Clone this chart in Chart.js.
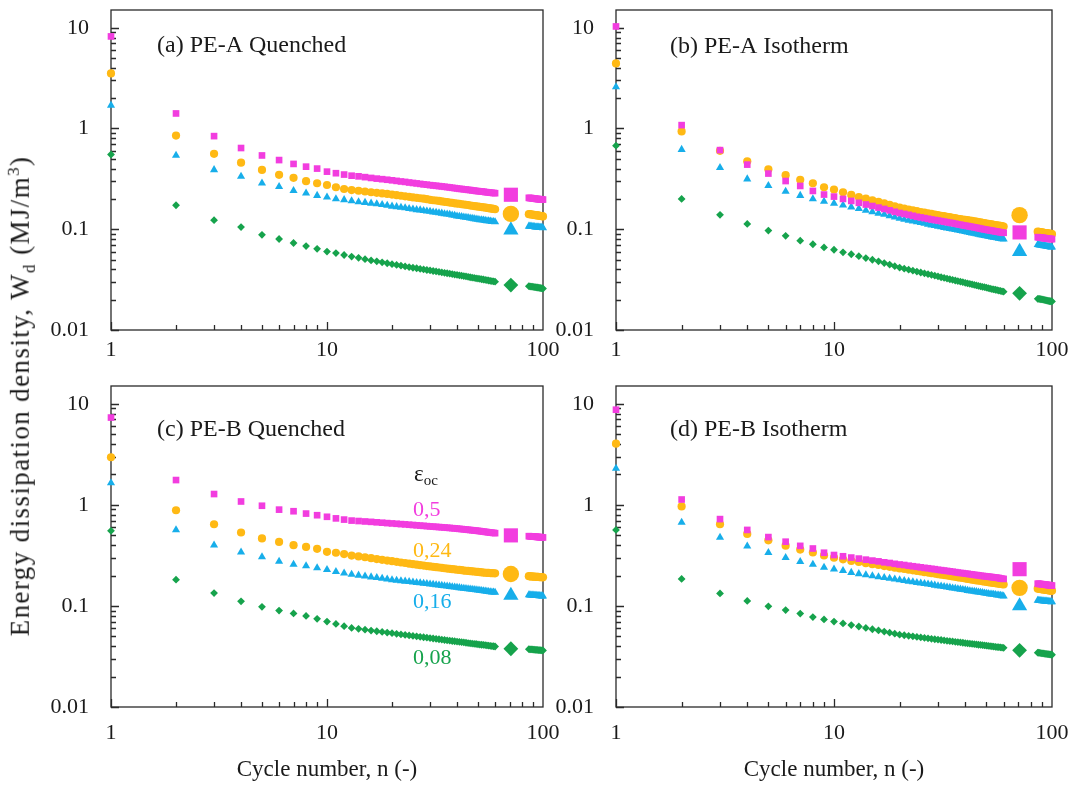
<!DOCTYPE html>
<html>
<head>
<meta charset="utf-8">
<script src="https://cdn.jsdelivr.net/npm/chart.js@4.4.0/dist/chart.umd.min.js"></script>
<style>
  body { margin: 0; background: #fff; }
  #wrap { position: relative; width: 1074px; height: 785px; overflow: hidden; font-family: 'Liberation Serif', 'Times New Roman', serif; }
  #wrap canvas { position: absolute; }
  #ytitle { position: absolute; left: 22px; top: 396px; transform: translate(-50%, -50%) rotate(-90deg); white-space: nowrap; font-size: 27px; letter-spacing: 1.4px; color: #1a1a1a; }
  #ytitle sub, #ytitle sup { font-size: 17px; }
</style>
</head>
<body>
<div id="wrap">
  <canvas id="pa"></canvas>
  <canvas id="pb"></canvas>
  <canvas id="pc"></canvas>
  <canvas id="pd"></canvas>
  <div id="ytitle">Energy dissipation density, W<sub>d</sub> (MJ/m<sup>3</sup>)</div>
</div>
<script>
// cycle numbers that carry a marker (the band is blanked around the big markers)
const cycles = [1,2,3,4,5,6,7,8,9,10,11,12,13,14,15,16,17,18,19,20,21,22,23,24,25,26,27,28,29,30,
  31,32,33,34,35,36,37,38,39,40,41,42,43,44,45,46,47,48,49,50,51,52,53,54,55,56,57,58,59,60,
  86,87,88,89,90,91,92,93,94,95,96,97,98,99,100];
const bigCycle = 71;

// (a) PE-A Quenched
const aPink = [8.2,1.41,0.84,0.64,0.54,0.486,0.445,0.418,0.40,0.373,0.36,0.349,0.34,
  0.335,0.329,0.323,0.318,0.314,0.310,0.306,0.302,0.298,0.295,0.291,0.288,0.285,0.282,0.279,0.277,0.274,
  0.272,0.270,0.268,0.266,0.264,0.262,0.260,0.258,0.256,0.254,0.252,0.251,0.249,0.248,0.246,0.245,0.243,0.242,0.240,0.239,0.238,0.237,0.236,0.234,0.233,0.232,0.231,0.230,0.229,0.228,
  0.205,0.204,0.204,0.203,0.202,0.202,0.201,0.200,0.200,0.199,0.199,0.198,0.198,0.197,0.197];
const aOrange = [3.52,0.85,0.561,0.458,0.388,0.347,0.324,0.300,0.286,0.275,0.261,0.251,0.245,
  0.241,0.237,0.233,0.230,0.227,0.224,0.221,0.218,0.215,0.212,0.210,0.207,0.205,0.203,0.201,0.199,0.196,
  0.194,0.193,0.191,0.189,0.187,0.186,0.184,0.183,0.181,0.180,0.179,0.177,0.176,0.175,0.174,0.172,0.171,0.170,0.169,0.168,0.167,0.166,0.165,0.164,0.163,0.162,0.161,0.160,0.159,0.158,
  0.141,0.141,0.140,0.140,0.139,0.139,0.138,0.138,0.137,0.137,0.136,0.136,0.135,0.135,0.134];
const aBlue = [1.70,0.54,0.389,0.334,0.286,0.265,0.242,0.228,0.216,0.208,0.200,0.196,0.191,
  0.187,0.184,0.181,0.178,0.175,0.172,0.169,0.167,0.165,0.163,0.160,0.158,0.156,0.155,0.153,0.151,0.150,
  0.148,0.147,0.145,0.144,0.142,0.141,0.140,0.138,0.137,0.135,0.134,0.133,0.132,0.131,0.130,0.129,0.128,0.127,0.126,0.125,0.124,0.124,0.123,0.122,0.121,0.121,0.120,0.119,0.119,0.118,
  0.107,0.107,0.107,0.106,0.106,0.106,0.105,0.105,0.105,0.105,0.104,0.104,0.104,0.104,0.103];
const aGreen = [0.552,0.173,0.123,0.105,0.088,0.080,0.073,0.068,0.064,0.060,0.058,0.0555,0.0535,
  0.052,0.0505,0.049,0.048,0.047,0.046,0.045,0.0442,0.0435,0.0428,0.0421,0.0415,0.041,0.0404,0.0399,0.0394,0.039,
  0.0385,0.0381,0.0377,0.0373,0.0369,0.0366,0.0362,0.0359,0.0355,0.0352,0.0349,0.0346,0.0343,0.034,0.0337,0.0334,0.0331,0.0329,0.0326,0.0324,0.0321,0.0319,0.0317,0.0314,0.0312,0.031,0.0308,0.0306,0.0304,0.0302,
  0.0272,0.0271,0.027,0.0269,0.0268,0.0267,0.0266,0.0265,0.0264,0.0263,0.0262,0.0261,0.026,0.0259,0.0258];
const aBig = [0.22, 0.142, 0.098, 0.0279];

// (b) PE-A Isotherm
const bPink = [10.3,1.08,0.61,0.438,0.357,0.301,0.269,0.240,0.221,0.211,0.200,0.191,0.183,
  0.176,0.170,0.164,0.159,0.154,0.149,0.145,0.142,0.139,0.136,0.133,0.131,0.129,0.127,0.125,0.1235,0.122,
  0.1205,0.119,0.1175,0.116,0.115,0.1135,0.112,0.111,0.1095,0.1085,0.1075,0.1065,0.1055,0.1045,0.1035,0.1025,0.1015,0.1005,0.0997,0.0989,0.0981,0.0974,0.0967,0.096,0.0953,0.0946,0.094,0.0934,0.0928,0.0922,
  0.0835,0.0832,0.0829,0.0826,0.0823,0.082,0.0817,0.0814,0.0811,0.0808,0.0806,0.0804,0.0802,0.08,0.0798];
const bOrange = [4.42,0.935,0.60,0.472,0.394,0.344,0.310,0.286,0.261,0.248,0.233,0.219,0.209,
  0.201,0.194,0.187,0.181,0.175,0.169,0.164,0.160,0.157,0.154,0.151,0.148,0.146,0.144,0.142,0.140,0.138,
  0.136,0.135,0.133,0.132,0.130,0.129,0.127,0.126,0.125,0.124,0.123,0.122,0.121,0.120,0.119,0.118,0.117,0.116,0.115,0.114,0.1132,0.1124,0.1116,0.1108,0.11,0.1093,0.1086,0.1079,0.1072,0.1065,
  0.0945,0.0941,0.0937,0.0933,0.0929,0.0925,0.0921,0.0917,0.0914,0.0911,0.0908,0.0905,0.0902,0.0899,0.0896];
const bBlue = [2.58,0.618,0.409,0.315,0.271,0.237,0.216,0.200,0.189,0.181,0.173,0.166,0.160,
  0.154,0.149,0.144,0.140,0.136,0.132,0.128,0.125,0.1225,0.12,0.118,0.116,0.114,0.112,0.110,0.1085,0.107,
  0.1055,0.104,0.1027,0.1014,0.1002,0.099,0.0978,0.0967,0.0956,0.0945,0.0935,0.0925,0.0916,0.0907,0.0898,0.0889,0.0881,0.0873,0.0865,0.0858,0.0851,0.0844,0.0837,0.0831,0.0825,0.0819,0.0813,0.0807,0.0802,0.0797,
  0.0703,0.07,0.0697,0.0694,0.0691,0.0688,0.0685,0.0682,0.0679,0.0676,0.0673,0.067,0.0668,0.0666,0.0664];
const bGreen = [0.676,0.20,0.139,0.113,0.097,0.086,0.077,0.071,0.066,0.0626,0.059,0.0565,0.054,
  0.0518,0.0498,0.048,0.0462,0.0446,0.043,0.0416,0.0406,0.0397,0.0388,0.038,0.0372,0.0365,0.0358,0.0352,0.0346,0.034,
  0.0334,0.0329,0.0324,0.0319,0.0315,0.031,0.0306,0.0302,0.0298,0.0294,0.029,0.0287,0.0284,0.028,0.0277,0.0274,0.0271,0.0268,0.0266,0.0263,0.026,0.0258,0.0255,0.0253,0.0251,0.0249,0.0246,0.0244,0.0242,0.024,
  0.0204,0.0204,0.0203,0.0202,0.0201,0.02,0.0199,0.0198,0.0197,0.0196,0.0195,0.0194,0.0193,0.0193,0.0192];
const bBig = [0.093, 0.138, 0.060, 0.0231];

// (c) PE-B Quenched
const cPink = [7.31,1.76,1.28,1.08,0.98,0.897,0.865,0.82,0.79,0.762,0.735,0.715,0.699,
  0.692,0.685,0.679,0.672,0.666,0.66,0.655,0.65,0.645,0.641,0.636,0.632,0.628,0.624,0.62,0.616,0.612,
  0.609,0.606,0.603,0.6,0.597,0.594,0.591,0.588,0.585,0.582,0.579,0.576,0.573,0.57,0.567,0.564,0.561,0.558,0.556,0.553,0.55,0.547,0.544,0.541,0.538,0.535,0.533,0.53,0.528,0.525,
  0.49,0.489,0.488,0.487,0.486,0.485,0.484,0.483,0.482,0.481,0.48,0.479,0.478,0.477,0.476];
const cOrange = [2.96,0.885,0.643,0.533,0.466,0.43,0.399,0.384,0.367,0.343,0.336,0.326,0.315,
  0.309,0.303,0.297,0.291,0.286,0.281,0.277,0.273,0.269,0.266,0.262,0.259,0.256,0.253,0.251,0.248,0.246,
  0.244,0.242,0.24,0.238,0.236,0.234,0.233,0.231,0.23,0.228,0.227,0.226,0.224,0.223,0.222,0.221,0.22,0.219,0.218,0.217,0.216,0.215,0.214,0.213,0.2125,0.212,0.2115,0.211,0.2105,0.21,
  0.197,0.1965,0.196,0.1955,0.195,0.1947,0.1944,0.1941,0.1938,0.1935,0.1932,0.1929,0.1926,0.1923,0.192];
const cBlue = [1.65,0.565,0.399,0.341,0.305,0.276,0.258,0.249,0.238,0.228,0.218,0.211,0.205,
  0.201,0.197,0.193,0.19,0.187,0.184,0.181,0.179,0.177,0.1752,0.1735,0.1718,0.1702,0.1687,0.1672,0.1658,0.1644,
  0.163,0.1617,0.1604,0.1591,0.1579,0.1567,0.1555,0.1544,0.1533,0.1522,0.1512,0.1502,0.1492,0.1482,0.1473,0.1464,0.1455,0.1446,0.1438,0.143,0.1422,0.1414,0.1406,0.1399,0.1392,0.1385,0.1378,0.1371,0.1365,0.1359,
  0.1285,0.1282,0.128,0.1277,0.1275,0.1272,0.127,0.1267,0.1265,0.1262,0.126,0.1257,0.1255,0.1252,0.125];
const cGreen = [0.553,0.182,0.134,0.111,0.098,0.09,0.0843,0.0796,0.0745,0.07,0.0663,0.0631,0.0606,
  0.0594,0.0582,0.0571,0.0562,0.0553,0.0545,0.0537,0.053,0.0523,0.0517,0.0511,0.0505,0.05,0.0495,0.049,0.0485,0.0481,
  0.0476,0.0472,0.0468,0.0464,0.046,0.0457,0.0453,0.045,0.0447,0.0444,0.0441,0.0438,0.0435,0.0432,0.0429,0.0427,0.0424,0.0422,0.042,0.0417,0.0415,0.0413,0.0411,0.0409,0.0407,0.0405,0.0403,0.0401,0.0399,0.0397,
  0.0373,0.0372,0.0371,0.0371,0.037,0.0369,0.0368,0.0368,0.0367,0.0366,0.0366,0.0365,0.0364,0.0364,0.0363];
const cBig = [0.499, 0.207, 0.127, 0.0377];

// (d) PE-B Isotherm
const dPink = [8.74,1.13,0.723,0.565,0.48,0.432,0.393,0.37,0.336,0.319,0.31,0.301,0.294,
  0.287,0.281,0.276,0.27,0.266,0.261,0.257,0.254,0.25,0.247,0.244,0.241,0.238,0.236,0.233,0.231,0.228,
  0.226,0.224,0.222,0.22,0.218,0.216,0.214,0.212,0.211,0.209,0.208,0.206,0.205,0.203,0.202,0.201,0.199,0.198,0.197,0.196,0.195,0.194,0.193,0.192,0.191,0.19,0.189,0.187,0.186,0.185,
  0.166,0.1655,0.165,0.1645,0.164,0.1635,0.163,0.1625,0.162,0.1615,0.161,0.1605,0.16,0.1595,0.159];
const dOrange = [4.03,0.966,0.643,0.516,0.446,0.395,0.361,0.338,0.316,0.30,0.289,0.279,0.272,
  0.265,0.259,0.254,0.248,0.244,0.239,0.235,0.232,0.228,0.225,0.222,0.219,0.216,0.214,0.211,0.209,0.206,
  0.204,0.202,0.2,0.198,0.196,0.194,0.192,0.19,0.189,0.187,0.185,0.184,0.182,0.181,0.179,0.178,0.177,0.175,0.174,0.173,0.172,0.171,0.17,0.169,0.168,0.167,0.166,0.165,0.164,0.163,
  0.148,0.1475,0.147,0.1465,0.146,0.1455,0.145,0.1445,0.144,0.1435,0.143,0.1425,0.142,0.1415,0.141];
const dBlue = [2.29,0.671,0.476,0.39,0.336,0.30,0.274,0.258,0.24,0.231,0.223,0.214,0.208,
  0.203,0.198,0.194,0.19,0.187,0.184,0.181,0.178,0.175,0.173,0.17,0.168,0.166,0.164,0.162,0.16,0.158,
  0.157,0.155,0.153,0.152,0.15,0.149,0.147,0.146,0.145,0.144,0.142,0.141,0.14,0.139,0.138,0.137,0.136,0.135,0.134,0.133,0.132,0.131,0.1305,0.13,0.129,0.128,0.1275,0.127,0.126,0.125,
  0.1135,0.1132,0.1129,0.1126,0.1123,0.112,0.1117,0.1114,0.1111,0.1108,0.1105,0.1102,0.11,0.1098,0.1096];
const dGreen = [0.565,0.185,0.133,0.112,0.099,0.091,0.084,0.0775,0.0735,0.07,0.0672,0.0647,0.0626,
  0.0606,0.0588,0.0572,0.0557,0.0544,0.0532,0.052,0.0513,0.0506,0.05,0.0494,0.0488,0.0483,0.0478,0.0473,0.0468,0.0464,
  0.046,0.0456,0.0452,0.0448,0.0445,0.0441,0.0438,0.0435,0.0432,0.0429,0.0426,0.0423,0.0421,0.0418,0.0416,0.0413,0.0411,0.0409,0.0407,0.0404,0.0402,0.04,0.0398,0.0396,0.0394,0.0392,0.0391,0.0389,0.0387,0.0385,
  0.0345,0.0344,0.0343,0.0341,0.034,0.0339,0.0338,0.0336,0.0335,0.0334,0.0333,0.0332,0.0331,0.033,0.0329];
const dBig = [0.231, 0.151, 0.100, 0.0364];

const xTicks = [1, 10, 100];
const yTicks = [0.01, 0.1, 1, 10];
const strainLabels = ['0,5', '0,24', '0,16', '0,08'];

const FONT = "'Liberation Serif', 'Times New Roman', serif";
const INK = '#1a1a1a';
const colors = ['#F23DDF', '#FFB914', '#17AEEA', '#16A34C'];
const styles = ['rect', 'circle', 'triangle', 'rectRot'];
const smallR = [4.7, 4.1, 4.7, 3.9];
const bigR = [10, 8.2, 8.8, 7.4];

// frame + inward tick marks, drawn under the markers
const frameTicks = {
  id: 'frameTicks',
  beforeDatasetsDraw(chart) {
    const { ctx, chartArea: a, scales: { x, y } } = chart;
    ctx.save();
    ctx.strokeStyle = '#2a2a2a';
    ctx.lineWidth = 1.3;
    ctx.strokeRect(a.left, a.top, a.right - a.left, a.bottom - a.top);
    ctx.beginPath();
    [1, 10].forEach(d => {
      for (let k = 1; k <= 9; k++) {
        const px = Math.round(x.getPixelForValue(d * k)) + 0.5;
        const len = k === 1 ? 8 : 5;
        ctx.moveTo(px, a.bottom); ctx.lineTo(px, a.bottom - len);
      }
    });
    [0.01, 0.1, 1].forEach(d => {
      for (let k = 1; k <= 9; k++) {
        const py = Math.round(y.getPixelForValue(d * k)) + 0.5;
        const len = k === 1 ? 8 : 5;
        ctx.moveTo(a.left, py); ctx.lineTo(a.left + len, py);
      }
    });
    const p10 = Math.round(y.getPixelForValue(10)) + 0.5;
    ctx.moveTo(a.left, p10); ctx.lineTo(a.left + 8, p10);
    ctx.stroke();
    ctx.restore();
  }
};

// panel title and, for (c), the strain labels
const texts = {
  id: 'texts',
  afterDraw(chart, args, opts) {
    const { ctx, chartArea: a } = chart;
    ctx.save();
    ctx.textBaseline = 'alphabetic';
    ctx.textAlign = 'left';
    ctx.fillStyle = INK;
    ctx.font = '24px ' + FONT;
    ctx.fillText(opts.title, a.left + opts.tx, a.top + opts.ty);
    if (opts.strain) {
      const lx = a.left + 302;
      ctx.font = '23px ' + FONT;
      ctx.fillText('\u03b5', lx + 1, a.top + 95);
      const ew = ctx.measureText('\u03b5').width;
      ctx.font = '15px ' + FONT;
      ctx.fillText('oc', lx + 1 + ew, a.top + 99);
      const ys = [130, 171, 222, 278];
      ctx.font = '22px ' + FONT;
      strainLabels.forEach((t, i) => {
        ctx.fillStyle = colors[i];
        ctx.fillText(t, lx, a.top + ys[i]);
      });
    }
    ctx.restore();
  }
};

function makePanel(id, box, series, big, title, tx, ty, bottom, strain) {
  const cv = document.getElementById(id);
  cv.width = box.w; cv.height = box.h;
  cv.style.left = box.left + 'px'; cv.style.top = box.top + 'px';
  const datasets = [];
  big.forEach((v, i) => datasets.push({
    data: [{ x: bigCycle, y: v }],
    pointStyle: styles[i], pointRadius: bigR[i], backgroundColor: colors[i],
    pointBorderWidth: 0, clip: false
  }));
  series.forEach((vals, i) => datasets.push({
    data: cycles.map((n, j) => ({ x: n, y: vals[j] })),
    pointStyle: styles[i], pointRadius: smallR[i], backgroundColor: colors[i],
    pointBorderWidth: 0, clip: false
  }));
  return new Chart(cv, {
    type: 'scatter',
    data: { datasets },
    options: {
      responsive: false,
      animation: false,
      events: [],
      layout: { padding: { left: 0, top: 5, right: box.padRight, bottom: 0 } },
      plugins: {
        legend: { display: false },
        tooltip: { enabled: false },
        texts: { title, tx, ty, strain }
      },
      scales: {
        x: {
          type: 'logarithmic', min: 1, max: 100,
          grid: { display: false, drawTicks: false },
          border: { display: false },
          afterBuildTicks: s => { s.ticks = xTicks.map(v => ({ value: v })); },
          afterFit: s => { s.height = box.xh; s.paddingLeft = 0; s.paddingRight = 0; },
          ticks: {
            padding: box.xpad, color: INK, maxRotation: 0, autoSkip: false,
            font: { family: FONT, size: 22 },
            callback: v => String(v)
          },
          title: {
            display: bottom, text: 'Cycle number, n (-)', color: INK,
            font: { family: FONT, size: 23 }, padding: { top: 0, bottom: 1 }
          }
        },
        y: {
          type: 'logarithmic', min: 0.01, max: 15,
          grid: { display: false, drawTicks: false },
          border: { display: false },
          afterBuildTicks: s => { s.ticks = yTicks.map(v => ({ value: v })); },
          afterFit: s => { s.width = box.yw; s.paddingTop = 0; s.paddingBottom = 0; },
          ticks: {
            padding: 22, color: INK, autoSkip: false,
            font: { family: FONT, size: 22 },
            callback: v => String(v)
          }
        }
      }
    },
    plugins: [frameTicks, texts]
  });
}

makePanel('pa', { left: 0, top: 0, w: 570, h: 370, yw: 111, xh: 40, xpad: 7, padRight: 27 },
  [aPink, aOrange, aBlue, aGreen], aBig, '(a) PE-A Quenched', 46, 42, false, false);
makePanel('pb', { left: 500, top: 0, w: 574, h: 370, yw: 116, xh: 40, xpad: 7, padRight: 22 },
  [bPink, bOrange, bBlue, bGreen], bBig, '(b) PE-A Isotherm', 54, 43, false, false);
makePanel('pc', { left: 0, top: 376, w: 570, h: 409, yw: 111, xh: 78, xpad: 13, padRight: 27 },
  [cPink, cOrange, cBlue, cGreen], cBig, '(c) PE-B Quenched', 46, 50, true, true);
makePanel('pd', { left: 500, top: 376, w: 574, h: 409, yw: 116, xh: 78, xpad: 13, padRight: 22 },
  [dPink, dOrange, dBlue, dGreen], dBig, '(d) PE-B Isotherm', 54, 50, true, false);
</script>
</body>
</html>
